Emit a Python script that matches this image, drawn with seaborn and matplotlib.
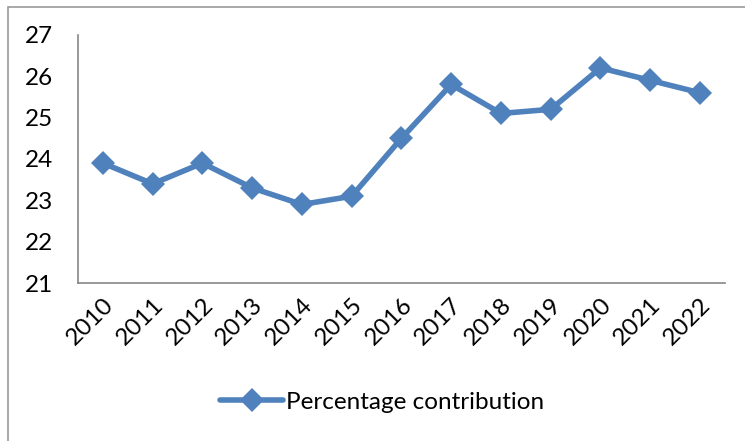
import matplotlib
matplotlib.use("Agg")
import matplotlib.pyplot as plt
import seaborn as sns
import pandas as pd
from matplotlib.patches import Rectangle

years = ["2010", "2011", "2012", "2013", "2014", "2015", "2016",
         "2017", "2018", "2019", "2020", "2021", "2022"]
values = [23.9, 23.4, 23.9, 23.3, 22.9, 23.1, 24.5,
          25.8, 25.1, 25.2, 26.2, 25.9, 25.6]
series_name = "Percentage contribution"
y_ticks = [21, 22, 23, 24, 25, 26, 27]

df = pd.DataFrame({"year": years, "value": values, "series": series_name})

sns.set_theme(style="white")
plt.rcParams['font.family'] = ['Lato', 'DejaVu Sans']
plt.rcParams['text.color'] = 'black'
plt.rcParams['xtick.color'] = 'black'
plt.rcParams['ytick.color'] = 'black'

fig = plt.figure(figsize=(7.45, 4.41), dpi=100)
ax = fig.add_axes([0.1047, 0.358, 0.8683, 0.563])

color = "#4F81BD"
sns.lineplot(data=df, x="year", y="value", hue="series", palette=[color],
             marker="D", markersize=12.5, linewidth=4, markeredgewidth=0,
             sort=False, ax=ax)

fs = 17.5
ax.set_xlim(-0.5, len(years) - 0.5)
ax.set_ylim(21, 27)
ax.set_yticks(y_ticks)
ax.set_yticklabels([str(t) for t in y_ticks], fontsize=fs, color="black")
ax.set_xticks(range(len(years)))
ax.set_xticklabels(years, rotation=45, ha="right", rotation_mode="anchor",
                   fontsize=fs, color="black")
ax.tick_params(axis="both", length=0, pad=8)
ax.tick_params(axis="y", pad=18)
ax.set_xlabel("")
ax.set_ylabel("")
for s in ["top", "right"]:
    ax.spines[s].set_visible(False)
for s in ["left", "bottom"]:
    ax.spines[s].set_color("#868686")
    ax.spines[s].set_linewidth(1.2)

leg = ax.legend(loc="center", bbox_to_anchor=(382 / 745, 1 - 402 / 441),
                bbox_transform=fig.transFigure, frameon=False, fontsize=fs,
                handlelength=2.6, handletextpad=0.1)
for t in leg.get_texts():
    t.set_color("black")
for h in leg.get_lines():
    h.set_linewidth(4)
    h.set_markersize(12.5)

fig.patches.append(Rectangle((8 / 745, -0.1), 1.2, 1 - 7 / 441 + 0.1,
                             transform=fig.transFigure, fill=False,
                             edgecolor="#999999", linewidth=1.2))

fig.savefig("out.png", dpi=100)
